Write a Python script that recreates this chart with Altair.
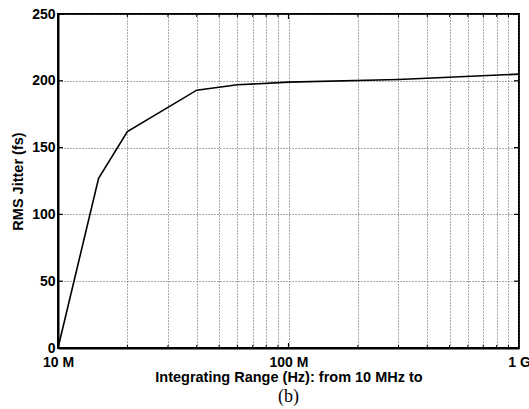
import altair as alt
import pandas as pd

# Integrated RMS jitter vs. upper integration limit (lower limit fixed at 10 MHz)
freq_hz = [1e7, 1.5e7, 2e7, 4e7, 6e7, 1e8, 3e8, 1e9]
jitter_fs = [0, 127, 162, 193, 197, 199, 201, 205]

# Log grid positions (1..9 x each decade) and the labelled decades
grid_values = [m * 10 ** e for e in (7, 8) for m in range(1, 10)] + [1e9]
minor_values = [m * 10 ** e for e in (7, 8) for m in range(2, 10)]
major_inner = [1e8]
y_ticks = [0, 50, 100, 150, 200, 250]

W, H = 461, 334
label_font = "Liberation Sans"
x_scale = alt.Scale(type="log", domain=[1e7, 1e9], nice=False)
y_scale = alt.Scale(domain=[0, 250], nice=False)

df = pd.DataFrame({"freq": freq_hz, "jitter": jitter_fs})

line = alt.Chart(df).mark_line(color="black", strokeWidth=1.6).encode(
    x=alt.X(
        "freq:Q",
        scale=x_scale,
        axis=alt.Axis(
            values=grid_values,
            labelExpr="datum.value == 1e7 ? '10 M' : datum.value == 1e8 ? '100 M' : datum.value == 1e9 ? '1 G' : ''",
            title="Integrating Range (Hz): from 10 MHz to",
            grid=True,
            gridDash=[1, 2],
            gridColor="#555555",
            gridWidth=1,
            ticks=False,
            labelPadding=7,
            labelFlush=False,
            labelOverlap=False,
            titlePadding=1,
        ),
    ),
    y=alt.Y(
        "jitter:Q",
        scale=y_scale,
        axis=alt.Axis(
            values=y_ticks,
            title="RMS Jitter (fs)",
            grid=True,
            gridDash=[1, 2],
            gridColor="#555555",
            gridWidth=1,
            ticks=False,
            labelPadding=3,
            titlePadding=6,
        ),
    ),
)

# Inward-pointing tick marks on all four sides of the frame
yt = pd.DataFrame({"jitter": y_ticks})
ticks_left = alt.Chart(yt).mark_rule(color="black", strokeWidth=1.2).encode(
    y=alt.Y("jitter:Q", scale=y_scale), x=alt.value(0), x2=alt.value(5)
)
ticks_right = alt.Chart(yt).mark_rule(color="black", strokeWidth=1.2).encode(
    y=alt.Y("jitter:Q", scale=y_scale), x=alt.value(W - 5), x2=alt.value(W)
)
xmaj = pd.DataFrame({"freq": major_inner})
ticks_bottom = alt.Chart(xmaj).mark_rule(color="black", strokeWidth=1.2).encode(
    x=alt.X("freq:Q", scale=x_scale), y=alt.value(H - 5), y2=alt.value(H)
)
ticks_top = alt.Chart(xmaj).mark_rule(color="black", strokeWidth=1.2).encode(
    x=alt.X("freq:Q", scale=x_scale), y=alt.value(0), y2=alt.value(5)
)
xmin = pd.DataFrame({"freq": minor_values})
minor_bottom = alt.Chart(xmin).mark_rule(color="black", strokeWidth=1).encode(
    x=alt.X("freq:Q", scale=x_scale), y=alt.value(H - 3), y2=alt.value(H)
)
minor_top = alt.Chart(xmin).mark_rule(color="black", strokeWidth=1).encode(
    x=alt.X("freq:Q", scale=x_scale), y=alt.value(0), y2=alt.value(3)
)

chart = (
    alt.layer(line, ticks_left, ticks_right, ticks_bottom, ticks_top, minor_bottom, minor_top)
    .properties(
        width=W,
        height=H,
        title=alt.TitleParams(
            "(b)",
            orient="bottom",
            font="Liberation Serif",
            fontSize=18,
            fontWeight="normal",
            color="black",
            offset=4,
        ),
        padding={"left": 58, "top": 14, "right": 10, "bottom": 61},
        autosize=alt.AutoSizeParams(type="none"),
        background="white",
    )
    .configure_view(stroke="black", strokeWidth=2)
    .configure_axis(
        domainColor="black",
        domainWidth=2,
        labelFont=label_font,
        labelFontSize=14,
        labelFontWeight="bold",
        labelColor="black",
        titleFont=label_font,
        titleFontSize=14.5,
        titleFontWeight="bold",
        titleColor="black",
    )
)

chart.save("out.html", embed_options={"renderer": "svg", "actions": False})
